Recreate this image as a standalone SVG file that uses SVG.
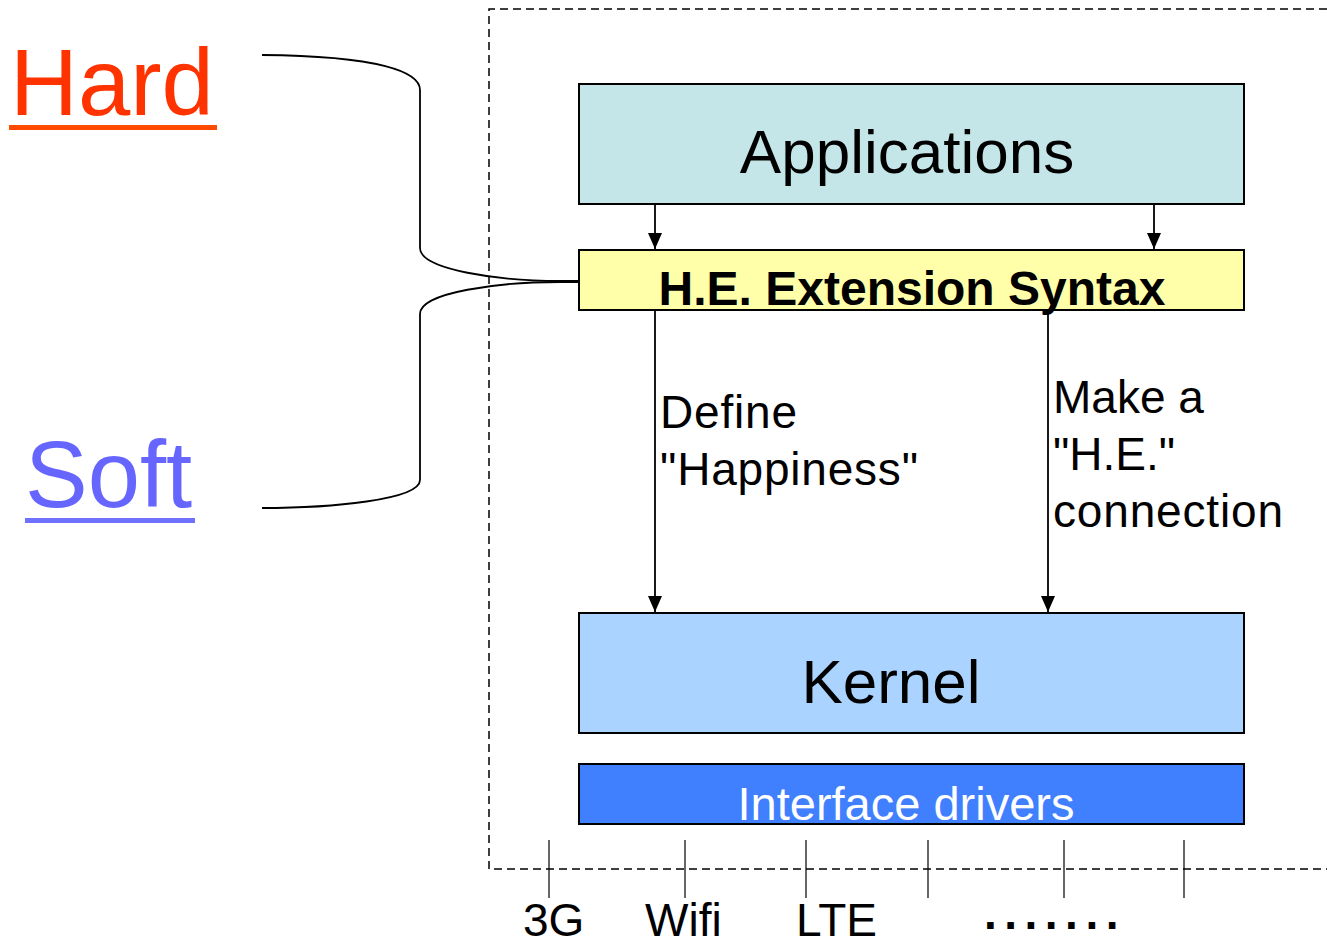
<svg xmlns="http://www.w3.org/2000/svg" width="1327" height="947" viewBox="0 0 1327 947">
<defs>
<style>
text{font-family:"Liberation Sans",Arial,sans-serif;}
.box{stroke:#000;stroke-width:2;}
.ln{fill:none;stroke:#000;stroke-width:1.8;}
.tick{stroke:#000;stroke-width:1.2;}
.lbl{font-size:46px;fill:#000;}
.dash{fill:none;stroke:#000;stroke-width:1.5;stroke-dasharray:8 5;}
</style>
<marker id="ah" markerWidth="16" markerHeight="14" refX="16" refY="7" orient="auto" markerUnits="userSpaceOnUse" viewBox="0 0 16 14">
<path d="M0,0 L16,7 L0,14 Z" fill="#000"/>
</marker>
</defs>
<rect width="1327" height="947" fill="#fff"/>
<g id="boundary">
<path class="dash" d="M1327,9 L489,9 L489,869 L1327,869"/>
</g>
<g id="hard">
<text x="10" y="115" font-size="94" fill="#ff3300">Hard</text>
<rect x="9" y="125" width="208" height="5" fill="#ff4a00"/>
</g>
<g id="soft">
<text x="25" y="507" font-size="94" fill="#6666ff">Soft</text>
<rect x="25" y="518" width="170" height="5" fill="#7070ff"/>
</g>
<g id="applications">
<rect class="box" x="579" y="84" width="665" height="120" fill="#c4e6e8"/>
<text x="907" y="173" font-size="62" text-anchor="middle">Applications</text>
</g>
<g id="he-syntax">
<rect class="box" x="579" y="250" width="665" height="60" fill="#ffffaa"/>
<text x="912" y="305" font-size="48" font-weight="bold" text-anchor="middle">H.E. Extension Syntax</text>
</g>
<g id="kernel">
<rect class="box" x="579" y="613" width="665" height="120" fill="#aad4ff"/>
<text x="891" y="703" font-size="62" text-anchor="middle">Kernel</text>
</g>
<g id="drivers">
<rect class="box" x="579" y="764" width="665" height="60" fill="#4080ff"/>
<text x="906" y="820" font-size="47" fill="#fff" text-anchor="middle">Interface drivers</text>
</g>
<g id="connectors">
<path class="ln" d="M262,55 C380,56 420,72 420,90 L420,248 C420,270 500,281 560,281 L579,281"/>
<path class="ln" d="M579,282 L560,282 C500,282 420,292 420,314 L420,480 C420,500 330,508 262,508"/>
<line class="ln" x1="655" y1="204" x2="655" y2="249" marker-end="url(#ah)"/>
<line class="ln" x1="1154" y1="204" x2="1154" y2="249" marker-end="url(#ah)"/>
<line class="ln" x1="655" y1="310" x2="655" y2="612" marker-end="url(#ah)"/>
<line class="ln" x1="1048" y1="310" x2="1048" y2="612" marker-end="url(#ah)"/>
<text class="lbl" x="660" y="428" textLength="137">Define</text>
<text class="lbl" x="660" y="485" textLength="258">"Happiness"</text>
<text class="lbl" x="1053" y="413">Make a</text>
<text class="lbl" x="1053" y="470">"H.E."</text>
<text class="lbl" x="1053" y="527" textLength="230">connection</text>
</g>
<g id="interfaces">
<line class="tick" x1="549" y1="840" x2="549" y2="898"/>
<line class="tick" x1="685" y1="840" x2="685" y2="898"/>
<line class="tick" x1="806" y1="840" x2="806" y2="898"/>
<line class="tick" x1="928" y1="840" x2="928" y2="898"/>
<line class="tick" x1="1064" y1="840" x2="1064" y2="898"/>
<line class="tick" x1="1184" y1="840" x2="1184" y2="898"/>
<text class="lbl" x="523" y="936">3G</text>
<text class="lbl" x="645" y="936">Wifi</text>
<text class="lbl" x="796" y="936">LTE</text>
<text class="lbl" x="984" y="929" font-weight="bold" letter-spacing="7.5">.......</text>
</g>
</svg>
